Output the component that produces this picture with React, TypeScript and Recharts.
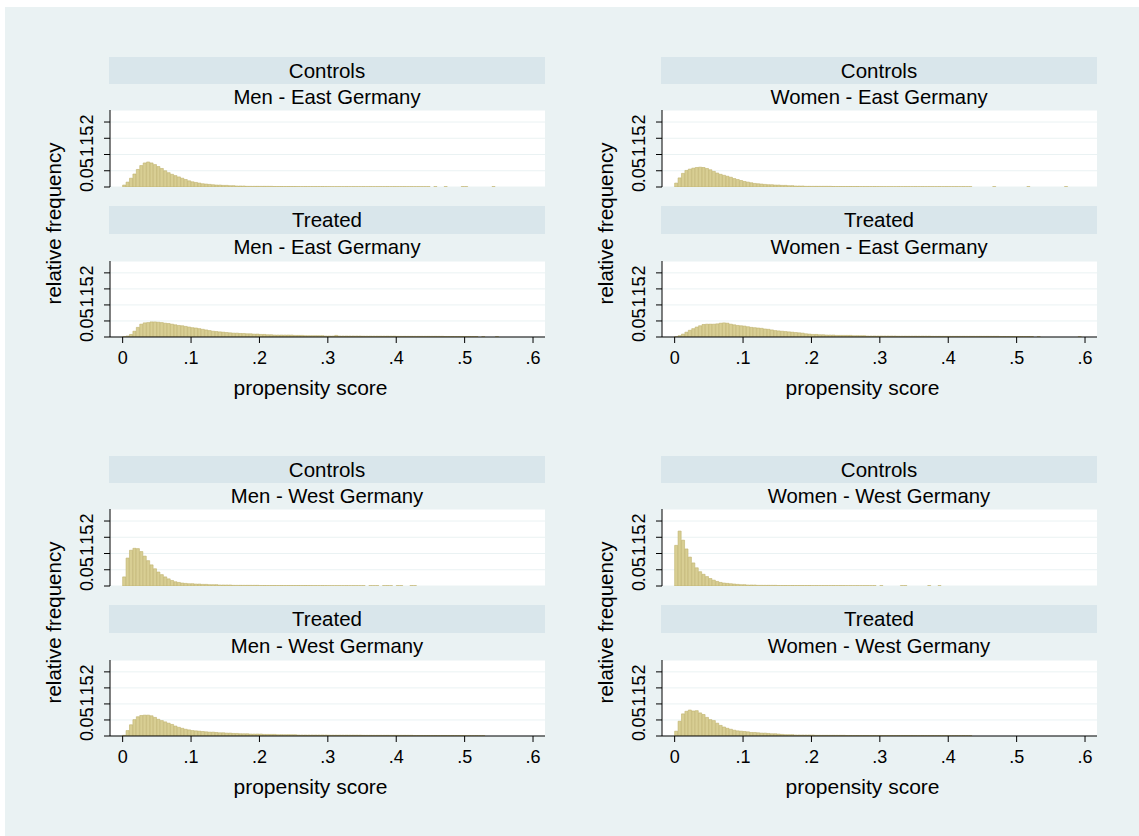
import React from "react";
import { BarChart, Bar, XAxis, YAxis, CartesianGrid } from "recharts";

// histogram bins are 0.005 wide, starting at 0
const BIN_WIDTH = 0.005;
const X_TICKS = [0, 0.1, 0.2, 0.3, 0.4, 0.5, 0.6];
const Y_TICKS = [0, 0.05, 0.1, 0.15, 0.2];
const X_DOMAIN: [number, number] = [-0.0185, 0.6175];
const Y_DOMAIN: [number, number] = [0, 0.237];

const GROUPS = ["Controls", "Treated"];
const SUBGROUPS = [
  "Men - East Germany",
  "Women - East Germany",
  "Men - West Germany",
  "Women - West Germany",
];

const menEastControls = [
  0.006, 0.015, 0.027, 0.04, 0.054, 0.066, 0.074, 0.077, 0.074, 0.069,
  0.063, 0.057, 0.05, 0.044, 0.039, 0.035, 0.031, 0.027, 0.023, 0.019,
  0.016, 0.014, 0.012, 0.01, 0.009, 0.008, 0.007, 0.006, 0.006, 0.005,
  0.005, 0.004, 0.004, 0.003, 0.003, 0.003, 0.002, 0.002, 0.002, 0.002,
  0.002, 0.002, 0.002, 0.002, 0.0015, 0.0015, 0.0015, 0.0015, 0.0015, 0.0015,
  0.0015, 0.0012, 0.0012, 0.0012, 0.0012, 0.0012, 0.0012, 0.0012, 0.0012, 0.0012,
  0.001, 0.001, 0.001, 0.001, 0.001, 0.001, 0.001, 0.001, 0.001, 0.001,
  0.001, 0.001, 0.001, 0.001, 0.001, 0.001, 0.001, 0.001, 0.001, 0.001,
  0.001, 0.001, 0.001, 0.001, 0.001, 0.001, 0.001, 0.001, 0.001, 0.001,
  0, 0.001, 0, 0, 0.001, 0, 0, 0, 0, 0.001,
  0.001, 0, 0, 0, 0, 0, 0, 0, 0.001, 0,
  0, 0, 0, 0, 0, 0, 0, 0, 0, 0,
];

const menEastTreated = [
  0.001, 0.003, 0.008, 0.018, 0.03, 0.04, 0.044, 0.045, 0.047, 0.047,
  0.046, 0.045, 0.043, 0.042, 0.04, 0.038, 0.036, 0.035, 0.033, 0.031,
  0.029, 0.028, 0.026, 0.024, 0.022, 0.02, 0.018, 0.017, 0.016, 0.015,
  0.014, 0.013, 0.012, 0.012, 0.011, 0.011, 0.01, 0.01, 0.009, 0.009,
  0.008, 0.008, 0.007, 0.007, 0.006, 0.006, 0.006, 0.006, 0.006, 0.006,
  0.005, 0.005, 0.005, 0.004, 0.004, 0.004, 0.004, 0.004, 0.004, 0.003,
  0.003, 0.003, 0.005, 0.003, 0.003, 0.003, 0.003, 0.003, 0.003, 0.003,
  0.0025, 0.0025, 0.0025, 0.0025, 0.0025, 0.0025, 0.0025, 0.0025, 0.0025, 0.0025,
  0.002, 0.002, 0.002, 0.002, 0.002, 0.002, 0.002, 0.002, 0.002, 0.002,
  0.002, 0.002, 0.002, 0.002, 0.0015, 0.0015, 0.0015, 0.0015, 0.0015, 0.0015,
  0.0015, 0.0015, 0.0015, 0.0015, 0, 0.001, 0, 0, 0, 0.001,
  0, 0, 0, 0, 0, 0, 0, 0, 0, 0,
];

const womenEastControls = [
  0.012, 0.028, 0.042, 0.051, 0.055, 0.058, 0.06, 0.061, 0.06, 0.057,
  0.053, 0.048, 0.043, 0.039, 0.036, 0.033, 0.03, 0.026, 0.023, 0.02,
  0.017, 0.015, 0.013, 0.011, 0.01, 0.009, 0.008, 0.007, 0.007, 0.006,
  0.006, 0.005, 0.005, 0.004, 0.004, 0.003, 0.003, 0.003, 0.002, 0.002,
  0.002, 0.002, 0.002, 0.002, 0.002, 0.002, 0.0015, 0.0015, 0.0015, 0.0015,
  0.0015, 0.0015, 0.0015, 0.0015, 0.0012, 0.0012, 0.0012, 0.0012, 0.0012, 0.0012,
  0.001, 0.001, 0.001, 0.001, 0.001, 0.001, 0.001, 0.001, 0.001, 0.001,
  0.001, 0.001, 0.001, 0.001, 0.001, 0.001, 0.001, 0.001, 0.001, 0.001,
  0.001, 0.001, 0.001, 0.001, 0.001, 0.001, 0.001, 0, 0, 0,
  0, 0, 0, 0.001, 0, 0, 0, 0, 0, 0,
  0, 0, 0, 0.001, 0, 0, 0, 0, 0, 0,
  0, 0, 0, 0, 0.001, 0, 0, 0, 0, 0,
];

const womenEastTreated = [
  0.001, 0.004, 0.009, 0.015, 0.021, 0.026, 0.031, 0.035, 0.039, 0.04,
  0.04, 0.04, 0.041, 0.043, 0.044, 0.043, 0.04, 0.038, 0.036, 0.035,
  0.034, 0.032, 0.03, 0.029, 0.028, 0.027, 0.025, 0.024, 0.022, 0.02,
  0.019, 0.018, 0.017, 0.016, 0.015, 0.014, 0.013, 0.012, 0.01, 0.009,
  0.008, 0.008, 0.007, 0.007, 0.006, 0.006, 0.006, 0.005, 0.005, 0.005,
  0.005, 0.005, 0.004, 0.004, 0.004, 0.004, 0.003, 0.003, 0.003, 0.003,
  0.003, 0.003, 0.003, 0.003, 0.003, 0.0025, 0.0025, 0.0025, 0.0025, 0.0025,
  0.0025, 0.0025, 0.0025, 0.0025, 0.0025, 0.002, 0.002, 0.002, 0.002, 0.002,
  0.002, 0.002, 0.002, 0.002, 0.002, 0.002, 0.002, 0.002, 0.002, 0.002,
  0.002, 0.002, 0.002, 0.002, 0.002, 0.0015, 0.0015, 0.0015, 0.0015, 0.0015,
  0.0015, 0.0015, 0.0015, 0.0015, 0.0015, 0, 0.001, 0, 0, 0,
  0, 0, 0, 0, 0, 0, 0, 0, 0.001, 0,
];

const menWestControls = [
  0.028, 0.086, 0.11, 0.116, 0.115, 0.106, 0.092, 0.078, 0.065, 0.053,
  0.043, 0.035, 0.028, 0.022, 0.017, 0.013, 0.011, 0.009, 0.008, 0.007,
  0.007, 0.006, 0.006, 0.005, 0.005, 0.004, 0.004, 0.004, 0.003, 0.003,
  0.003, 0.003, 0.002, 0.002, 0.002, 0.002, 0.002, 0.002, 0.002, 0.002,
  0.0015, 0.0015, 0.0015, 0.0015, 0.0015, 0.0015, 0.0015, 0.0015, 0.0015, 0.0015,
  0.0015, 0.0015, 0.0015, 0.0015, 0.0015, 0.0012, 0.0012, 0.0012, 0.0012, 0.0012,
  0.001, 0.001, 0.001, 0.001, 0.001, 0.001, 0.001, 0.001, 0.001, 0.001,
  0.001, 0, 0.001, 0.001, 0.001, 0, 0.001, 0.001, 0.001, 0,
  0.001, 0.001, 0, 0, 0.001, 0.001, 0, 0, 0, 0,
  0, 0, 0, 0, 0, 0, 0, 0, 0, 0,
  0, 0, 0, 0, 0, 0, 0, 0, 0, 0,
  0, 0, 0, 0, 0, 0, 0, 0, 0, 0,
];

const menWestTreated = [
  0.002, 0.017, 0.035, 0.051, 0.06, 0.064, 0.065, 0.065, 0.063, 0.058,
  0.052, 0.048, 0.044, 0.04, 0.036, 0.031, 0.027, 0.024, 0.021, 0.019,
  0.017, 0.016, 0.015, 0.014, 0.013, 0.012, 0.012, 0.011, 0.01, 0.01,
  0.009, 0.009, 0.008, 0.008, 0.007, 0.007, 0.007, 0.006, 0.006, 0.006,
  0.006, 0.005, 0.005, 0.005, 0.005, 0.004, 0.004, 0.004, 0.004, 0.004,
  0.004, 0.003, 0.003, 0.003, 0.003, 0.003, 0.003, 0.003, 0.003, 0.003,
  0.0025, 0.0025, 0.0025, 0.0025, 0.0025, 0.0025, 0.0025, 0.0025, 0.0025, 0.0025,
  0.002, 0.002, 0.002, 0.002, 0.002, 0.002, 0.002, 0.002, 0.002, 0.002,
  0.002, 0.002, 0.002, 0.002, 0.002, 0.0015, 0.0015, 0.0015, 0.0015, 0.0015,
  0.0015, 0.0015, 0.0015, 0.0015, 0.0015, 0.0015, 0.0015, 0.0015, 0.0015, 0.0015,
  0.001, 0.001, 0.001, 0.001, 0.001, 0.001, 0, 0, 0, 0,
  0, 0, 0, 0, 0, 0, 0, 0, 0, 0,
];

const womenWestControls = [
  0.125, 0.169, 0.141, 0.114, 0.089, 0.071, 0.056, 0.044, 0.036, 0.029,
  0.023, 0.018, 0.014, 0.011, 0.009, 0.008, 0.007, 0.006, 0.005, 0.004,
  0.004, 0.003, 0.003, 0.003, 0.002, 0.002, 0.002, 0.002, 0.002, 0.002,
  0.0015, 0.0015, 0.0015, 0.0015, 0.0015, 0.0015, 0.0015, 0.0015, 0.0015, 0.0015,
  0.0012, 0.0012, 0.0012, 0.0012, 0.0012, 0.0012, 0.0012, 0.0012, 0.0012, 0.0012,
  0.001, 0.001, 0.001, 0.001, 0.001, 0.001, 0.001, 0.001, 0.001, 0,
  0.001, 0, 0, 0, 0, 0, 0.001, 0.001, 0, 0,
  0, 0, 0, 0, 0.001, 0, 0, 0.001, 0, 0,
  0, 0, 0, 0, 0, 0, 0, 0, 0, 0,
  0, 0, 0, 0, 0, 0, 0, 0, 0, 0,
  0, 0, 0, 0, 0, 0, 0, 0, 0, 0,
  0, 0, 0, 0, 0, 0, 0, 0, 0, 0,
];

const womenWestTreated = [
  0.015, 0.046, 0.069, 0.077, 0.081, 0.078, 0.079, 0.072, 0.067, 0.058,
  0.051, 0.048, 0.04, 0.033, 0.028, 0.024, 0.021, 0.018, 0.016, 0.015,
  0.014, 0.013, 0.011, 0.011, 0.01, 0.009, 0.009, 0.008, 0.007, 0.007,
  0.006, 0.005, 0.004, 0.004, 0.004, 0.003, 0.003, 0.003, 0.003, 0.003,
  0.003, 0.002, 0.002, 0.002, 0.002, 0.002, 0.002, 0.002, 0.002, 0.002,
  0.0015, 0.0015, 0.0015, 0.0015, 0.0015, 0.0015, 0.0015, 0.0015, 0.0015, 0.0015,
  0.0015, 0.0015, 0.0015, 0.0015, 0.0015, 0.0015, 0.0015, 0.0015, 0.0015, 0.0015,
  0.0012, 0.0012, 0.0012, 0.0012, 0.0012, 0.0012, 0.0012, 0.0012, 0.0012, 0.0012,
  0.001, 0.001, 0.001, 0.001, 0.001, 0.001, 0.001, 0, 0, 0,
  0, 0, 0, 0, 0, 0, 0, 0, 0, 0,
  0, 0, 0, 0, 0, 0, 0, 0, 0, 0,
  0, 0, 0, 0, 0, 0, 0, 0, 0, 0,
];

const FONT = '"Liberation Sans", Arial, Helvetica, sans-serif';
const BG = "#eaf2f3";
const STRIP = "#d9e6eb";
const BAR_FILL = "#d8ce93";
const BAR_LINE = "#c0b26c";

const PLOT_W = 435;
const YAXIS_W = 70;

// quadrant offsets: men east, women east, men west, women west
const QUADS = [
  { dx: 0, dy: 0, controls: menEastControls, treated: menEastTreated },
  { dx: 552, dy: 0, controls: womenEastControls, treated: womenEastTreated },
  { dx: 0, dy: 399, controls: menWestControls, treated: menWestTreated },
  { dx: 552, dy: 399, controls: womenWestControls, treated: womenWestTreated },
];

const toTable = (vals: number[]) =>
  vals.map((v, i) => ({ x: (i + 0.5) * BIN_WIDTH, freq: v }));

const fmt = (v: number) => (v === 0 ? "0" : String(v).replace(/^0/, ""));

const YTick = (props: any) => {
  const { x, y, payload } = props;
  return (
    <text
      x={x}
      y={y}
      transform={`rotate(-90 ${x} ${y})`}
      textAnchor="middle"
      fontSize={18}
      fontFamily={FONT}
      fill="#000"
    >
      {fmt(payload.value)}
    </text>
  );
};

const Hist = ({
  values,
  left,
  top,
  plotH,
  showX,
}: {
  values: number[];
  left: number;
  top: number;
  plotH: number;
  showX: boolean;
}) => {
  const xAxisH = showX ? 32 : 0;
  const barSize = (PLOT_W / (X_DOMAIN[1] - X_DOMAIN[0])) * BIN_WIDTH;
  return (
    <div style={{ position: "absolute", left: left - YAXIS_W, top: top - 5 }}>
      <BarChart
        width={YAXIS_W + PLOT_W + 10}
        height={5 + plotH + 5 + xAxisH}
        data={toTable(values)}
        margin={{ top: 5, right: 10, bottom: 5, left: 0 }}
        barCategoryGap={0}
        barGap={0}
      >
        <CartesianGrid vertical={false} stroke={BG} fill="#ffffff" />
        <XAxis
          type="number"
          dataKey="x"
          domain={X_DOMAIN}
          ticks={X_TICKS}
          interval={0}
          allowDataOverflow
          hide={!showX}
          height={32}
          tickSize={6}
          tickMargin={8}
          tickFormatter={fmt}
          stroke="#000"
          tick={{ fill: "#000", fontSize: 18, fontFamily: FONT }}
        />
        <YAxis
          type="number"
          domain={Y_DOMAIN}
          ticks={Y_TICKS}
          interval={0}
          allowDataOverflow
          width={YAXIS_W}
          tickSize={6}
          tickMargin={11}
          stroke="#000"
          tick={(p: any) => <YTick {...p} />}
        />
        <Bar
          dataKey="freq"
          fill={BAR_FILL}
          stroke={BAR_LINE}
          strokeWidth={0.6}
          barSize={barSize}
          isAnimationActive={false}
        />
      </BarChart>
    </div>
  );
};

export default function App() {
  return (
    <div
      style={{
        position: "absolute",
        left: 0,
        top: 0,
        width: 1139,
        height: 836,
        background: "#ffffff",
        fontFamily: FONT,
        overflow: "hidden",
      }}
    >
      <svg
        width={1139}
        height={836}
        style={{ position: "absolute", left: 0, top: 0 }}
      >
        <rect x={5} y={7} width={1134} height={829} fill={BG} />
        {QUADS.map((q, qi) => (
          <g key={qi} transform={`translate(${q.dx} ${q.dy})`} fontFamily={FONT} fill="#000">
            <rect x={109} y={57} width={436} height={27} fill={STRIP} />
            <rect x={109} y={206} width={436} height={28} fill={STRIP} />
            <text x={327} y={77.5} textAnchor="middle" fontSize={20.5}>
              {GROUPS[0]}
            </text>
            <text x={327} y={104.3} textAnchor="middle" fontSize={20.3}>
              {SUBGROUPS[qi]}
            </text>
            <text x={327} y={227} textAnchor="middle" fontSize={20.5}>
              {GROUPS[1]}
            </text>
            <text x={327} y={254} textAnchor="middle" fontSize={20.3}>
              {SUBGROUPS[qi]}
            </text>
            <text x={310.5} y={395} textAnchor="middle" fontSize={21}>
              propensity score
            </text>
            <text
              x={61}
              y={223.5}
              transform="rotate(-90 61 223.5)"
              textAnchor="middle"
              fontSize={20.5}
            >
              relative frequency
            </text>
          </g>
        ))}
      </svg>
      {QUADS.map((q, qi) => (
        <React.Fragment key={qi}>
          <Hist
            values={q.controls}
            left={110 + q.dx}
            top={110 + q.dy}
            plotH={77}
            showX={false}
          />
          <Hist
            values={q.treated}
            left={110 + q.dx}
            top={261 + q.dy}
            plotH={76}
            showX
          />
        </React.Fragment>
      ))}
    </div>
  );
}
